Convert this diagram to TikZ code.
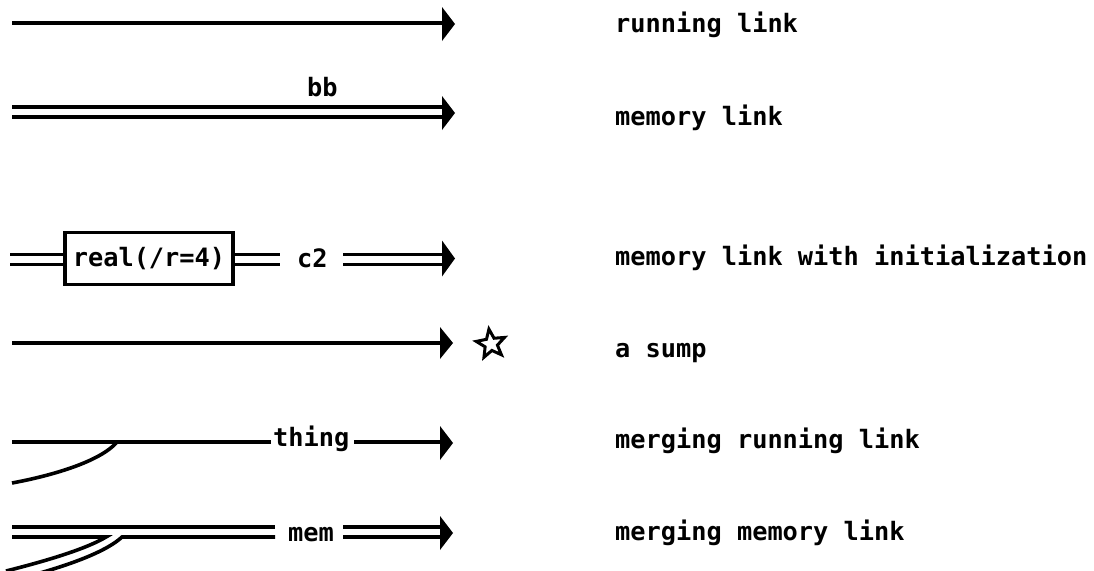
\documentclass[tikz,border=0pt]{standalone}
\usepackage{fontspec}
\newfontfamily\lpmono{DejaVu Sans Mono}
\usetikzlibrary{shapes.geometric}
\begin{document}
\begin{tikzpicture}[x=1pt,y=-1pt,
  every node/.style={font=\lpmono\bfseries\fontsize{25.3}{28}\selectfont, inner sep=0pt},
  run/.style={line width=3.6pt},
  memline/.style={line width=3.6pt, double=white, double distance=6.4pt},
  rail/.style={line width=3.6pt},
  lbl/.style={anchor=base west},
  pics/head/.style={code={\fill (-13,-#1) -- (0,0) -- (-13,#1) -- cycle;}}
]
\useasboundingbox (0,0) rectangle (1094,570);

% ---- row 1: running link
\coordinate (a1) at (12,23);
\coordinate (b1) at (448,23);
\coordinate (t1) at (455,24);
\draw[run] (a1) -- (b1);
\pic at (t1) {head=17};
\node[lbl] (L1) at (615,32) {running link};

% ---- row 2: memory link
\coordinate (a2) at (12,112);
\coordinate (b2) at (446,112);
\coordinate (t2) at (455,113);
\draw[memline] (a2) -- (b2);
\pic at (t2) {head=17};
\node[lbl] (bb) at (307,96) {bb};
\node[lbl] (L2) at (615,125) {memory link};

% ---- row 3: memory link with initialization
\node[draw, line width=3.4pt, minimum width=168pt, minimum height=52pt] (box) at (149,258.75) {real(/r=4)};
\coordinate (a3) at (10,259.5);
\coordinate (c3) at (280,259.5);
\coordinate (d3) at (343,259.5);
\coordinate (e3) at (446,259.5);
\coordinate (t3) at (455,258.5);
\draw[memline] (a3) -- (a3 -| box.west);
\draw[memline] (c3 -| box.east) -- (c3);
\node[lbl] (c2) at (297,267) {c2};
\draw[memline] (d3) -- (e3);
\pic at (t3) {head=18};
\node[lbl] (L3) at (615,265) {memory link with initialization};

% ---- row 4: a sump
\coordinate (a4) at (12,343);
\coordinate (b4) at (446,343);
\coordinate (t4) at (453,343);
\draw[run] (a4) -- (b4);
\pic at (t4) {head=16};
\node[star, star points=5, star point ratio=2.3, minimum size=30pt, draw, line width=3pt, rotate=8] (sump) at (491,344) {};
\node[lbl] (L4) at (615,357) {a sump};

% ---- row 5: merging running link
\coordinate (a5) at (12,442);
\coordinate (b5) at (271,442);
\coordinate (c5) at (354,442);
\coordinate (d5) at (446,442);
\coordinate (t5) at (453,443);
\coordinate (e5) at (12,483);
\coordinate (f5) at (117,442);
\draw[run] (a5) -- (b5);
\draw[run] (e5) .. controls (50,476) and (100,462) .. (f5);
\node[lbl] (thing) at (273,446) {thing};
\draw[run] (c5) -- (d5);
\pic at (t5) {head=17};
\node[lbl] (L5) at (615,448) {merging running link};

% ---- row 6: merging memory link
\coordinate (a6) at (12,527);
\coordinate (b6) at (275,527);
\coordinate (g6) at (12,537);
\coordinate (v6) at (106,537);
\coordinate (h6) at (6,571);
\coordinate (k6) at (40,573);
\coordinate (m6) at (122,537);
\coordinate (n6) at (275,537);
\coordinate (d6) at (343,532);
\coordinate (e6) at (446,532);
\coordinate (t6) at (453,533);
\draw[rail] (a6) -- (b6);
\draw[rail] (g6) -- (v6) .. controls (88,548) and (50,560) .. (h6);
\draw[rail] (k6) .. controls (78,562) and (108,550) .. (m6) -- (n6);
\node[lbl] (mem) at (288,541) {mem};
\draw[memline] (d6) -- (e6);
\pic at (t6) {head=17};
\node[lbl] (L6) at (615,540) {merging memory link};
\end{tikzpicture}
\end{document}
